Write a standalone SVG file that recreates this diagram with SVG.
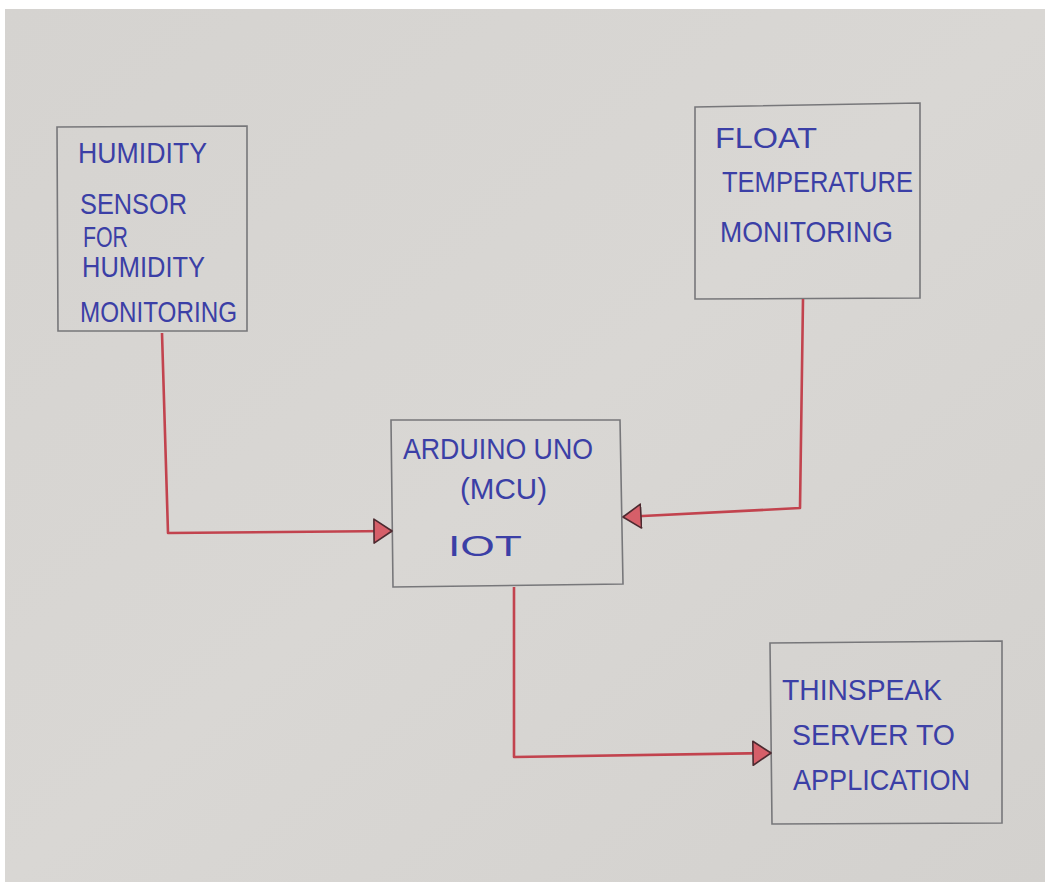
<svg xmlns="http://www.w3.org/2000/svg" width="1045" height="882" viewBox="0 0 1045 882">
<defs>
<linearGradient id="paper" x1="0" y1="0" x2="1" y2="1">
<stop offset="0" stop-color="#d5d3d0"/>
<stop offset="0.5" stop-color="#d9d7d4"/>
<stop offset="1" stop-color="#d3d1ce"/>
</linearGradient>
<marker id="arrow" viewBox="0 0 20 26" refX="19" refY="13" markerWidth="20" markerHeight="26" markerUnits="userSpaceOnUse" orient="auto">
<path d="M1,1 L19,13 L1,25 Z" fill="#d65f69" stroke="#4d2a30" stroke-width="1.6" stroke-linejoin="round"/>
</marker>
<style>
.box{fill:none;stroke:#77777a;stroke-width:1.6;stroke-linejoin:miter}
.lbl{font-family:"Liberation Sans","DejaVu Sans",sans-serif;font-size:29px;fill:#3b3fa6}
.wire{fill:none;stroke:#c2434e;stroke-width:2.6;stroke-linejoin:round}
</style>
</defs>
<rect x="0" y="0" width="1045" height="882" fill="#ffffff"/>
<rect x="5" y="9" width="1040" height="873" fill="url(#paper)"/>

<g id="humidity-sensor">
<path class="box" d="M57,127 L247,126 L247,331 L58,331 Z"/>
<text class="lbl" x="78" y="163" textLength="129" lengthAdjust="spacingAndGlyphs">HUMIDITY</text>
<text class="lbl" x="80" y="214" textLength="107" lengthAdjust="spacingAndGlyphs">SENSOR</text>
<text class="lbl" x="83" y="247" textLength="45" lengthAdjust="spacingAndGlyphs">FOR</text>
<text class="lbl" x="82" y="277" textLength="123" lengthAdjust="spacingAndGlyphs">HUMIDITY</text>
<text class="lbl" x="80" y="322" textLength="157" lengthAdjust="spacingAndGlyphs">MONITORING</text>
</g>

<g id="float-temperature">
<path class="box" d="M695,107 L920,103 L920,298 L695,299 Z"/>
<text class="lbl" x="715" y="148" textLength="102" lengthAdjust="spacingAndGlyphs">FLOAT</text>
<text class="lbl" x="722" y="192" textLength="191" lengthAdjust="spacingAndGlyphs">TEMPERATURE</text>
<text class="lbl" x="720" y="242" textLength="173" lengthAdjust="spacingAndGlyphs">MONITORING</text>
</g>

<g id="arduino-uno">
<path class="box" d="M391,420 L620,420 L623,584 L393,587 Z"/>
<text class="lbl" x="403" y="459" textLength="190" lengthAdjust="spacingAndGlyphs">ARDUINO UNO</text>
<text class="lbl" x="460" y="499" textLength="87" lengthAdjust="spacingAndGlyphs">(MCU)</text>
<text class="lbl" x="448" y="556" textLength="74" lengthAdjust="spacingAndGlyphs">IOT</text>
</g>

<g id="thingspeak-server">
<path class="box" d="M770,643 L1002,641 L1002,823 L772,824 Z"/>
<text class="lbl" x="782" y="700" textLength="160" lengthAdjust="spacingAndGlyphs">THINSPEAK</text>
<text class="lbl" x="792" y="745" textLength="163" lengthAdjust="spacingAndGlyphs">SERVER TO</text>
<text class="lbl" x="793" y="790" textLength="177" lengthAdjust="spacingAndGlyphs">APPLICATION</text>
</g>

<g id="connectors">
<path class="wire" d="M162,333 L168,533 L392,531" marker-end="url(#arrow)"/>
<path class="wire" d="M803,299 L800,508 L623,517" marker-end="url(#arrow)"/>
<path class="wire" d="M514,587 L514,757 L771,753" marker-end="url(#arrow)"/>
</g>
</svg>
